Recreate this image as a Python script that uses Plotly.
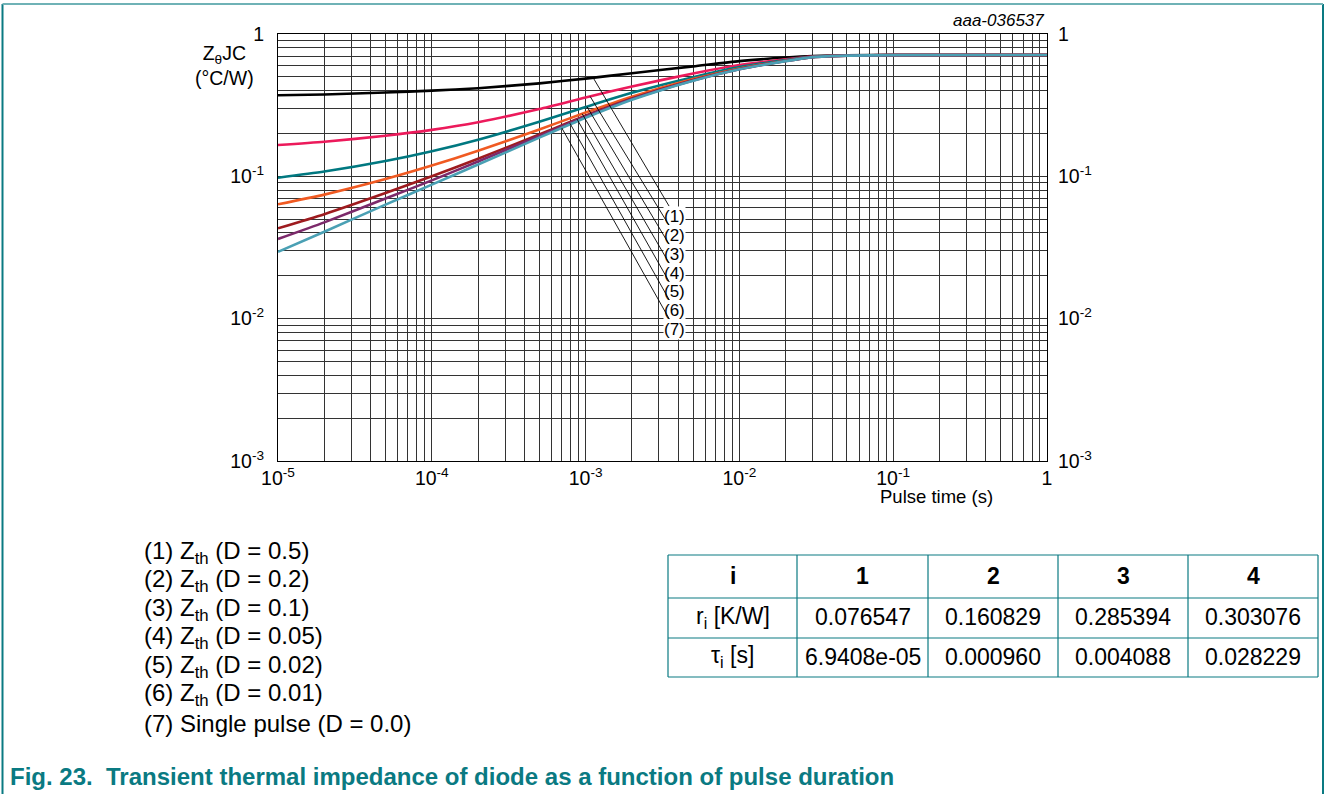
import numpy as np
import plotly.graph_objects as go

W, H = 1325, 794

# ---------------- data ----------------
pulse_time = [1e-5, 2e-5, 5e-5, 1e-4, 2e-4, 5e-4, 1e-3, 2e-3, 5e-3, 1e-2, 2e-2, 3e-2, 5e-2, 1e-1, 1]
z_d050 = [0.371, 0.376, 0.388, 0.400, 0.416, 0.450, 0.486, 0.530, 0.592, 0.645, 0.683, 0.700, 0.709, 0.711, 0.712]
z_d020 = [0.166, 0.175, 0.193, 0.212, 0.240, 0.297, 0.358, 0.428, 0.528, 0.605, 0.665, 0.695, 0.707, 0.711, 0.712]
z_d010 = [0.0978, 0.108, 0.128, 0.150, 0.181, 0.242, 0.307, 0.386, 0.497, 0.585, 0.656, 0.692, 0.706, 0.710, 0.712]
z_d005 = [0.0636, 0.0744, 0.0957, 0.119, 0.151, 0.213, 0.281, 0.363, 0.482, 0.573, 0.649, 0.690, 0.706, 0.710, 0.712]
z_d002 = [0.0431, 0.0542, 0.0763, 0.100, 0.133, 0.197, 0.267, 0.352, 0.475, 0.568, 0.646, 0.688, 0.705, 0.710, 0.712]
z_d001 = [0.0363, 0.0475, 0.0698, 0.0937, 0.127, 0.192, 0.263, 0.349, 0.472, 0.566, 0.646, 0.688, 0.705, 0.710, 0.712]
z_single = [0.0295, 0.0408, 0.0633, 0.0875, 0.121, 0.187, 0.258, 0.345, 0.470, 0.565, 0.645, 0.688, 0.705, 0.710, 0.712]

series = [z_d050, z_d020, z_d010, z_d005, z_d002, z_d001, z_single]
series_names = ["Zth (D = 0.5)", "Zth (D = 0.2)", "Zth (D = 0.1)", "Zth (D = 0.05)",
                "Zth (D = 0.02)", "Zth (D = 0.01)", "Single pulse (D = 0.0)"]
series_colors = ["#000000", "#ec1a5b", "#007880", "#f05a22", "#9e1b1f", "#7c2a6b", "#4aa0b4"]

curve_labels = ["(1)", "(2)", "(3)", "(4)", "(5)", "(6)", "(7)"]
leader_start_t = [1.12e-3, 1.07e-3, 1.02e-3, 9.5e-4, 8.8e-4, 7.9e-4, 7.0e-4]
label_t = 3.81e-3
label_z = [0.0526, 0.0387, 0.0284, 0.0209, 0.0154, 0.0115, 0.00845]

x_tickvals = [1e-5, 1e-4, 1e-3, 1e-2, 1e-1, 1]
x_ticktext = ["10<sup>-5</sup>", "10<sup>-4</sup>", "10<sup>-3</sup>", "10<sup>-2</sup>", "10<sup>-1</sup>", "1"]
y_tickvals = [1e-3, 1e-2, 1e-1, 1]
y_ticktext = ["10<sup>-3</sup>", "10<sup>-2</sup>", "10<sup>-1</sup>", "1"]

legend_lines = [
    "(1) Z<sub>th</sub> (D = 0.5)",
    "(2) Z<sub>th</sub> (D = 0.2)",
    "(3) Z<sub>th</sub> (D = 0.1)",
    "(4) Z<sub>th</sub> (D = 0.05)",
    "(5) Z<sub>th</sub> (D = 0.02)",
    "(6) Z<sub>th</sub> (D = 0.01)",
    "(7) Single pulse (D = 0.0)",
]

table_header = ["i", "1", "2", "3", "4"]
table_r_row = ["r<sub>i</sub> [K/W]", "0.076547", "0.160829", "0.285394", "0.303076"]
table_tau_row = ["τ<sub>i</sub> [s]", "6.9408e-05", "0.000960", "0.004088", "0.028229"]

# ---------------- layout helpers ----------------
FONT = "Liberation Sans, Arial, sans-serif"
TEAL = "#0a7a82"
GRID = "#333333"


def px(x):
    return x / W


def py(y):
    return 1 - y / H


def text_ann(x, y, text, size, color="#000", xanchor="center", yanchor="middle", align="center"):
    return dict(x=px(x), y=py(y), xref="paper", yref="paper", text=text, showarrow=False,
                xanchor=xanchor, yanchor=yanchor, align=align,
                font=dict(family=FONT, size=size, color=color))


fig = go.Figure()

for z, name, col in zip(series, series_names, series_colors):
    fig.add_trace(go.Scatter(
        x=pulse_time, y=z, mode="lines", name=name,
        line=dict(color=col, width=2.6, shape="spline", smoothing=0.6),
        hoverinfo="x+y+name", showlegend=False,
    ))

# invisible trace so the right-hand axis is drawn
fig.add_trace(go.Scatter(x=[pulse_time[0]], y=[z_single[0]], yaxis="y2", mode="markers",
                         marker=dict(opacity=0), hoverinfo="skip", showlegend=False))

annotations = []

# curve labels with leader lines
log_t = np.log10(pulse_time)
for lab, t0, lz, z in zip(curve_labels, leader_start_t, label_z, series):
    tip_y = np.interp(np.log10(t0), log_t, np.log10(z))
    annotations.append(dict(
        x=np.log10(t0), y=tip_y, xref="x", yref="y",
        ax=np.log10(label_t), ay=np.log10(lz), axref="x", ayref="y",
        text=lab, showarrow=True, arrowhead=0, arrowwidth=0.9, arrowcolor="#000",
        standoff=0, startstandoff=0, xanchor="center", yanchor="middle",
        font=dict(family=FONT, size=17, color="#000"),
        bgcolor="white", borderpad=0,
    ))

# axis titles & misc text
annotations.append(text_ann(224, 66, "Z<sub>θ</sub>JC<br>(°C/W)", 19.5))
annotations.append(text_ann(936, 497, "Pulse time (s)", 18.5))
annotations.append(text_ann(1046, 20, "<i>aaa-036537</i>", 17, xanchor="right"))

# legend text block
for i, line in enumerate(legend_lines):
    annotations.append(text_ann(142, 552 + i * 28.5, line, 24, xanchor="left", align="left"))

# table
col_edges = [668, 797, 928, 1058, 1188, 1318]
row_edges = [555, 598, 638, 677]
shapes = []
for xe in col_edges:
    shapes.append(dict(type="line", xref="paper", yref="paper", x0=px(xe), x1=px(xe),
                       y0=py(row_edges[0]), y1=py(row_edges[-1]), line=dict(color=TEAL, width=1.2)))
for ye in row_edges:
    shapes.append(dict(type="line", xref="paper", yref="paper", x0=px(col_edges[0]), x1=px(col_edges[-1]),
                       y0=py(ye), y1=py(ye), line=dict(color=TEAL, width=1.2)))
for r, row in enumerate([table_header, table_r_row, table_tau_row]):
    yc = (row_edges[r] + row_edges[r + 1]) / 2
    for c, txt in enumerate(row):
        xc = (col_edges[c] + col_edges[c + 1]) / 2
        annotations.append(text_ann(xc, yc - 1, (f"<b>{txt}</b>" if r == 0 else txt), 23))

# caption
annotations.append(text_ann(8, 776, "<b>Fig. 23.  Transient thermal impedance of diode as a function of pulse duration</b>",
                            24, color=TEAL, xanchor="left", align="left"))

# outer frame
shapes.append(dict(type="line", xref="paper", yref="paper", x0=px(2.5), x1=px(2.5), y0=py(4), y1=0,
                   line=dict(color=TEAL, width=2)))
shapes.append(dict(type="line", xref="paper", yref="paper", x0=px(1323), x1=px(1323), y0=py(4), y1=0,
                   line=dict(color=TEAL, width=2)))
shapes.append(dict(type="line", xref="paper", yref="paper", x0=px(2.5), x1=px(1323), y0=py(4), y1=py(4),
                   line=dict(color="#6fb2b6", width=2)))

axis_common = dict(
    type="log", showline=True, linecolor="#000", linewidth=1, mirror=True,
    showgrid=True, gridcolor=GRID, gridwidth=1.2,
    ticks="", zeroline=False, automargin=False,
    tickfont=dict(family=FONT, size=19.5, color="#000"),
    minor=dict(dtick="D1", showgrid=True, gridcolor=GRID, gridwidth=1.2, ticks=""),
)

fig.update_layout(
    width=W, height=H, autosize=False,
    margin=dict(l=0, r=0, t=0, b=0, pad=0),
    paper_bgcolor="white", plot_bgcolor="white",
    font=dict(family=FONT, color="#000"),
    xaxis=dict(axis_common, domain=[px(278), px(1047)], range=[-5, 0],
               tickmode="array", tickvals=x_tickvals, ticktext=x_ticktext,
               ticklabelstandoff=0),
    yaxis=dict(axis_common, domain=[py(461), py(34)], range=[-3, 0],
               tickmode="array", tickvals=y_tickvals, ticktext=y_ticktext,
               ticklabelstandoff=9),
    yaxis2=dict(type="log", overlaying="y", side="right", range=[-3, 0],
                tickmode="array", tickvals=y_tickvals, ticktext=y_ticktext,
                showgrid=False, showline=False, ticks="", zeroline=False,
                ticklabelstandoff=10, automargin=False,
                tickfont=dict(family=FONT, size=19.5, color="#000")),
    annotations=annotations,
    shapes=shapes,
    showlegend=False,
)

fig.write_html("out.html",
               config={"displayModeBar": False},
               post_script="document.body.style.margin='0px';document.body.style.overflow='hidden';")
